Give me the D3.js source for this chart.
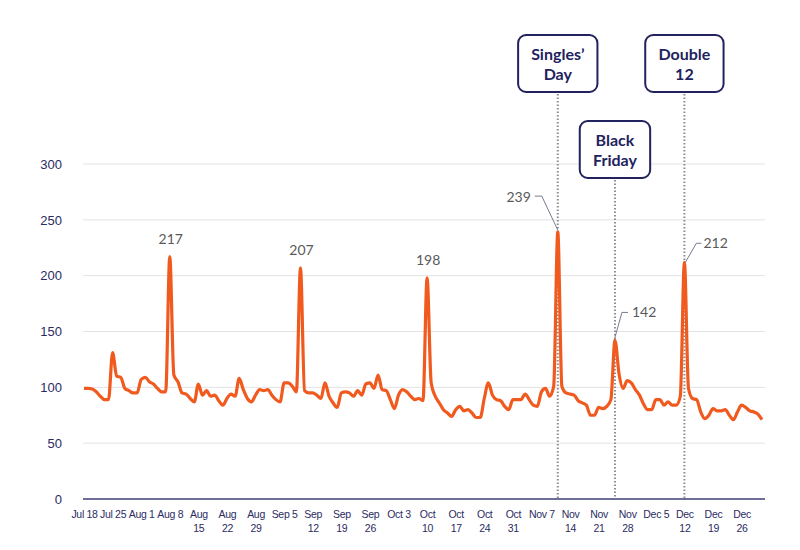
<!DOCTYPE html>
<html>
  <head>
    <meta charset="utf-8">
    <title>Daily index</title>
    <style>
      body { margin: 0; background: #fff; }
      svg { display: block; font-family: Lato, "Open Sans", sans-serif; }
      .grid line { stroke: #e3e3e3; stroke-width: 1; }
      .yaxis text { fill: #2b2b63; font-size: 13px; }
      .xaxis text { fill: #2b2b63; font-size: 10.5px; letter-spacing: -0.3px; }
      .series { fill: none; stroke: #f15a1e; stroke-width: 3.2; stroke-linejoin: round; }
      .peak { fill: #5a5a5a; font-size: 14px; }
      .leader { fill: none; stroke: #7a7a8c; stroke-width: 1; }
      .marker { stroke: #8c8c8c; stroke-width: 2; stroke-dasharray: 1.5 2; }
      .box rect { fill: #fff; stroke: #22225e; stroke-width: 2; }
      .box text { fill: #22225e; font-size: 16px; font-weight: bold; }
    </style>
    <script src="https://d3js.org/d3.v7.min.js" charset="utf-8"></script>
  </head>
  <body>
    <svg id="chart" width="800" height="550"></svg>
    <script>
      // daily values, Jul 18 to Dec 31 2022
      var startDate = new Date(2022, 6, 18);
      var values = [
        99, 99, 98.5, 96, 92, 89, 89, 131, 110, 109,
        99, 97, 95, 95, 107, 109, 105, 103, 99, 96,
        96, 217, 111, 105, 95, 94, 90, 87, 103, 93,
        97, 92, 93, 88, 84, 90, 94, 92, 108, 98,
        90, 87, 93, 98, 97, 98, 93, 89, 87, 104,
        104, 101, 96, 207, 97, 95, 95, 93, 90, 104,
        92, 86, 82, 95, 96, 95, 92, 97, 93, 103,
        104, 99, 111, 98, 97, 89, 81, 93, 98, 96,
        92, 89, 90, 88, 198, 104, 92, 86, 80, 77,
        74, 80, 83, 79, 80, 77, 73, 73, 90, 104,
        93, 89, 88, 83, 80, 89, 89, 89, 94, 89,
        84, 83, 96, 99, 92, 101, 239, 101, 95, 94,
        93, 88, 86, 84, 75, 75, 82, 81, 83, 89,
        142, 112, 99, 106, 104, 98, 93, 85, 80, 80,
        89, 89, 84, 87, 84, 84, 92, 212, 99, 90,
        89, 78, 72, 75, 81, 79, 79, 80, 75, 71,
        78, 84, 82, 79, 78, 76, 71
      ];

      var yTicks = [0, 50, 100, 150, 200, 250, 300];
      var xTickLabels = [
        "Jul 18", "Jul 25", "Aug 1", "Aug 8", "Aug 15", "Aug 22", "Aug 29",
        "Sep 5", "Sep 12", "Sep 19", "Sep 26", "Oct 3", "Oct 10", "Oct 17",
        "Oct 24", "Oct 31", "Nov 7", "Nov 14", "Nov 21", "Nov 28", "Dec 5",
        "Dec 12", "Dec 19", "Dec 26"
      ];

      // plain peaks labelled above, and peaks labelled with a leader line
      var peakDays = [21, 53, 84];
      var leaderDays = [116, 130, 147];

      var eventNames = [["Singles\u2019", "Day"], ["Black", "Friday"], ["Double", "12"]];
      var eventDays = [116, 130, 147];

      var svg = d3.select("#chart");

      var data = values.map(function(v, i) {
        return { date: d3.timeDay.offset(startDate, i), value: v };
      });
      var endDate = data[data.length - 1].date;

      var x = d3.scaleTime().domain([startDate, endDate]).range([84, 762]);
      var y = d3.scaleLinear().domain([0, 300]).range([499, 164]);

      // gridlines
      svg.append("g").attr("class", "grid")
         .selectAll("line")
         .data(yTicks.slice(1))
         .enter().append("line")
         .attr("x1", 83).attr("x2", 765)
         .attr("y1", function(d) { return y(d); })
         .attr("y2", function(d) { return y(d); });

      // y axis labels
      var yAxis = svg.append("g").attr("class", "yaxis")
         .attr("transform", "translate(70,0)")
         .call(d3.axisLeft(y).tickValues(yTicks).tickSize(0).tickPadding(8));
      yAxis.select(".domain").remove();

      // x axis labels
      var tickDates = xTickLabels.map(function(d, i) { return d3.timeDay.offset(startDate, i * 7); });
      var xAxis = svg.append("g").attr("class", "xaxis")
         .attr("transform", "translate(0,499)")
         .call(d3.axisBottom(x).tickValues(tickDates).tickSize(0)
               .tickFormat(function(d, i) { return xTickLabels[i]; }));
      xAxis.select(".domain").remove();
      xAxis.selectAll(".tick text").each(function(d, i) {
        var label = xTickLabels[i];
        var t = d3.select(this).text(null).attr("y", 0).attr("dy", null);
        var parts = (label.indexOf("Jul") === 0 || label.length < 6) ? [label] : label.split(" ");
        parts.forEach(function(p, k) {
          t.append("tspan").attr("x", 0).attr("y", 19 + k * 14).text(p);
        });
      });

      // event marker lines (drawn before the series)
      var markers = svg.append("g");

      // axis line
      svg.append("line")
         .attr("x1", 83).attr("x2", 765)
         .attr("y1", y(0)).attr("y2", y(0))
         .attr("stroke", "#6e6e96").attr("stroke-width", 2);

      // series
      var line = d3.line()
         .x(function(d) { return x(d.date); })
         .y(function(d) { return y(d.value); })
         .curve(d3.curveMonotoneX);

      svg.append("path").datum(data).attr("class", "series").attr("d", line);

      // peak labels above
      svg.selectAll(".peak-top")
         .data(peakDays)
         .enter().append("text")
         .attr("class", "peak")
         .attr("text-anchor", "middle")
         .attr("x", function(d) { return x(data[d].date) + 1; })
         .attr("y", function(d) { return y(data[d].value) - 13; })
         .text(function(d) { return data[d].value; });

      // peak labels with leaders
      var leaderLayout = [
        { tx: -27, ty: -30, anchor: "end", pts: [[-23, -36], [-16, -36], [0, -2]] },
        { tx: 17, ty: -23, anchor: "start", pts: [[13, -28], [7, -28], [0, -3]] },
        { tx: 19, ty: -14, anchor: "start", pts: [[17, -19], [12, -19], [1, 0]] }
      ];
      leaderDays.forEach(function(d, i) {
        var px = x(data[d].date), py = y(data[d].value), L = leaderLayout[i];
        svg.append("path").attr("class", "leader")
           .attr("d", d3.line()(L.pts.map(function(p) { return [px + p[0], py + p[1]]; })));
        svg.append("text").attr("class", "peak")
           .attr("text-anchor", L.anchor)
           .attr("x", px + L.tx).attr("y", py + L.ty)
           .text(data[d].value);
      });

      // event boxes
      var boxTop = [35, 121, 35];
      eventDays.forEach(function(d, i) {
        var cx = x(data[d].date);
        var top = boxTop[i], h = 57;
        markers.append("line").attr("class", "marker")
           .attr("x1", cx).attr("x2", cx)
           .attr("y1", top + h + 2).attr("y2", y(0));
        var g = svg.append("g").attr("class", "box");
        var rect = g.append("rect");
        var txt = g.append("text").attr("text-anchor", "middle");
        eventNames[i].forEach(function(s, k) {
          txt.append("tspan").attr("x", cx).attr("y", top + 25 + k * 20).text(s);
        });
        var w = txt.node().getBBox().width + 26;
        rect.attr("x", cx - w / 2).attr("y", top)
            .attr("width", w).attr("height", h)
            .attr("rx", 8).attr("ry", 8);
      });
    </script>
  </body>
</html>
